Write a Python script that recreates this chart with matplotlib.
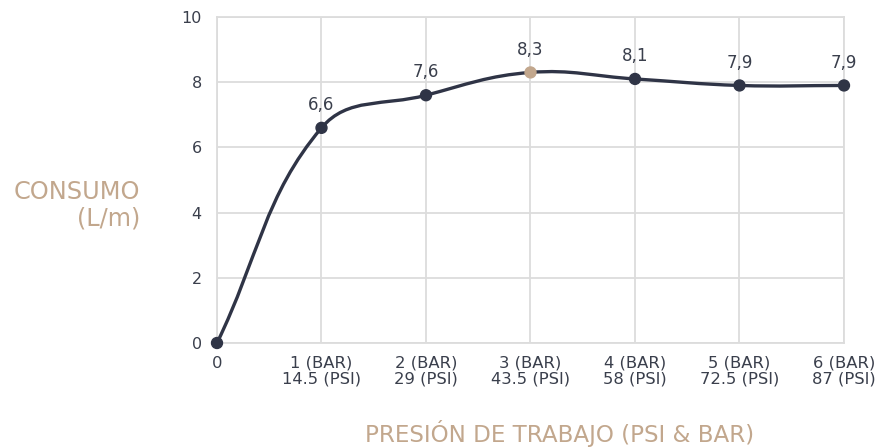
import matplotlib
matplotlib.use("Agg")
import matplotlib.pyplot as plt
import numpy as np
from matplotlib.path import Path
from matplotlib.patches import PathPatch

# ---- data ----
x_labels = ["0", "1 (BAR)\n14.5 (PSI)", "2 (BAR)\n29 (PSI)", "3 (BAR)\n43.5 (PSI)",
            "4 (BAR)\n58 (PSI)", "5 (BAR)\n72.5 (PSI)", "6 (BAR)\n87 (PSI)"]
consumo = [0, 6.6, 7.6, 8.3, 8.1, 7.9, 7.9]
value_labels = ["", "6,6", "7,6", "8,3", "8,1", "7,9", "7,9"]
y_ticks = [0, 2, 4, 6, 8, 10]
highlight_index = 3

LINE = "#2f3446"
TAN = "#c2a78d"
GRID = "#dcdcdc"
TXT = "#3a3f4c"

plt.rcParams['font.family'] = ['DejaVu Sans']

fig = plt.figure(figsize=(8.95, 4.48), dpi=100)
ax = fig.add_axes([217/895, 1-343/448, (844-217)/895, (343-17)/448])
xs = np.arange(len(consumo))
ax.set_xlim(0, len(consumo)-1)
ax.set_ylim(0, 10)
ax.set_yticks(y_ticks)
ax.set_xticks(xs)
ax.set_xticklabels(x_labels, fontsize=11.8, color=TXT, linespacing=1.1)
ax.set_yticklabels([str(v) for v in y_ticks], fontsize=11.5, color=TXT)
ax.tick_params(axis='x', length=0, pad=9)
ax.tick_params(axis='y', length=0, pad=11)
ax.grid(True, color=GRID, lw=1.3)
for s in ax.spines.values():
    s.set_color(GRID)
    s.set_linewidth(1.3)
ax.set_axisbelow(True)

# Chart.js-like spline (tension 0.4) computed in pixel-scaled space
sx = ax.transData.transform((1, 0))[0] - ax.transData.transform((0, 0))[0]
sy = ax.transData.transform((0, 1))[1] - ax.transData.transform((0, 0))[1]
pts = np.column_stack([xs, consumo]).astype(float)
t = 0.4
n = len(pts)
cp_prev = np.zeros_like(pts)
cp_next = np.zeros_like(pts)
for i in range(n):
    p0 = pts[max(i-1, 0)]
    p1 = pts[i]
    p2 = pts[min(i+1, n-1)]
    d01 = np.hypot((p1[0]-p0[0])*sx, (p1[1]-p0[1])*sy)
    d12 = np.hypot((p2[0]-p1[0])*sx, (p2[1]-p1[1])*sy)
    tot = d01 + d12
    s01 = d01/tot if tot else 0
    s12 = d12/tot if tot else 0
    fa, fb = t*s01, t*s12
    cp_prev[i] = p1 - fa*(p2-p0)
    cp_next[i] = p1 + fb*(p2-p0)
verts = [tuple(pts[0])]
codes = [Path.MOVETO]
for i in range(n-1):
    verts += [tuple(cp_next[i]), tuple(cp_prev[i+1]), tuple(pts[i+1])]
    codes += [Path.CURVE4]*3
ax.add_patch(PathPatch(Path(verts, codes), fill=False, edgecolor=LINE, lw=2.4,
                       capstyle='round', joinstyle='round', zorder=3))

colors = [TAN if i == highlight_index else LINE for i in range(n)]
ax.scatter(xs, consumo, s=62, c=colors, zorder=4, clip_on=False)
for xi, yi, lab in zip(xs, consumo, value_labels):
    if lab:
        ax.annotate(lab, (xi, yi), xytext=(0, 10), textcoords='offset points',
                    ha='center', va='bottom', fontsize=12, color=TXT)

fig.text(140/895, 1-205/448, "CONSUMO\n(L/m)", ha='right', va='center',
         multialignment='right', fontsize=17.3, color=TAN, linespacing=1.15)
fig.text(560/895, 1-433/448, "PRESIÓN DE TRABAJO (PSI & BAR)", ha='center',
         va='center', fontsize=16.6, color=TAN)

fig.savefig("out.png", dpi=100)
